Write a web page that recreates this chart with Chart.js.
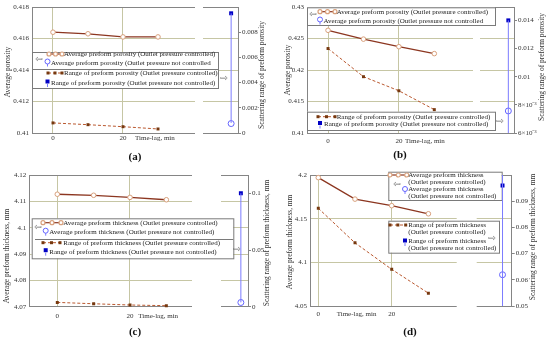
<!DOCTYPE html>
<html>
<head>
<meta charset="utf-8">
<script src="https://cdn.jsdelivr.net/npm/chart.js@4.4.0/dist/chart.umd.min.js"></script>
<style>
    body { margin: 0; background: #fff; }
    #wrap { position: relative; width: 550px; height: 341px; overflow: hidden; }
    canvas { position: absolute; }
    .cap { position: absolute; font: bold 11px "Liberation Serif", serif; color: #111; transform: translateX(-50%); }
</style>
</head>
<body>
<div id="wrap">
    <canvas id="chartA" width="275" height="170" style="left:0;top:0"></canvas>
    <canvas id="chartB" width="275" height="170" style="left:275px;top:0"></canvas>
    <canvas id="chartC" width="275" height="171" style="left:0;top:170px"></canvas>
    <canvas id="chartD" width="275" height="171" style="left:275px;top:170px"></canvas>
    <div class="cap" style="left:135px;top:150px">(a)</div>
    <div class="cap" style="left:400px;top:148px">(b)</div>
    <div class="cap" style="left:135px;top:325px">(c)</div>
    <div class="cap" style="left:410px;top:325px">(d)</div>
</div>
<script>
// time-lag sweep (min) for the controlled runs
const timeLag = [0, 10, 20, 30];
const xTicks = [0, 20];

// (a) porosity
const avgPorosityCtrlA = [0.4164, 0.4163, 0.4161, 0.4161];
const rangePorosityCtrlA = [0.0008, 0.00066, 0.0005, 0.00032];
const avgPorosityFreeA = 0.4106;
const rangePorosityFreeA = 0.0095;
const freeLineA = [0.0008, 0.0095];
const leftTicksA = [0.41, 0.412, 0.414, 0.416, 0.418];
const leftLabelsA = ['0.41', '0.412', '0.414', '0.416', '0.418'];
const rightTicksA = [0, 0.002, 0.004, 0.006, 0.008];
const rightLabelsA = ['0', '0.002', '0.004', '0.006', '0.008'];

// (b) porosity
const avgPorosityCtrlB = [0.4263, 0.4249, 0.4237, 0.4226];
const rangePorosityCtrlB = [0.0120, 0.0100, 0.0090, 0.00766];
const avgPorosityFreeB = 0.4135;
const rangePorosityFreeB = 0.0140;
const freeLineB = [0.006, 0.014];
const leftTicksB = [0.41, 0.415, 0.42, 0.425, 0.43];
const leftLabelsB = ['0.41', '0.415', '0.42', '0.425', '0.43'];
const rightTicksB = [0.006, 0.008, 0.01, 0.012, 0.014];
const rightLabelsB = ['6\u00d710\u207b\u00b3', '8\u00d710\u207b\u00b3', '0.01', '0.012', '0.014'];

// (c) thickness, mm
const avgThickCtrlC = [4.1127, 4.1123, 4.1115, 4.1106];
const rangeThickCtrlC = [0.0038, 0.0026, 0.0015, 0.0009];
const avgThickFreeC = 4.0716;
const rangeThickFreeC = 0.1003;
const freeLineC = [0.0038, 0.1003];
const leftTicksC = [4.07, 4.08, 4.09, 4.1, 4.11, 4.12];
const leftLabelsC = ['4.07', '4.08', '4.09', '4.1', '4.11', '4.12'];
const rightTicksC = [0, 0.05, 0.1];
const rightLabelsC = ['0', '0.05', '0.1'];

// (d) thickness, mm
const avgThickCtrlD = [4.197, 4.1724, 4.1649, 4.1556];
const rangeThickCtrlD = [0.0873, 0.0741, 0.0640, 0.0549];
const avgThickFreeD = 4.0858;
const rangeThickFreeD = 0.0960;
const freeLineD = [0.05, 0.1];
const leftTicksD = [4.05, 4.1, 4.15, 4.2];
const leftLabelsD = ['4.05', '4.1', '4.15', '4.2'];
const rightTicksD = [0.05, 0.06, 0.07, 0.08, 0.09];
const rightLabelsD = ['0.05', '0.06', '0.07', '0.08', '0.09'];

const SERIF = '"Liberation Serif", "Times New Roman", serif';
const colors = {
    avgLine: '#8c3620',
    avgPoint: '#d8a07c',
    rangeLine: '#b9582f',
    rangePoint: '#76380f',
    freeLine: '#7b7bff',
    freeCircle: '#6464ff',
    freeSquare: '#0000c4',
    grid: '#c6c6a4',
    frame: '#858585',
    text: '#333'
};

const panels = [
    {
        id: 'chartA', w: 275, h: 170,
        area: { l: 32, r: 238, t: 7, b: 133 },
        xMin: -6, xMax: 52.86, freeX: 50.9, gap: [195, 203], gapBorders: true,
        yMin: 0.41, yMax: 0.418, y2Min: 0, y2Max: 0.01,
        avgCtrl: avgPorosityCtrlA, rangeCtrl: rangePorosityCtrlA,
        avgFree: avgPorosityFreeA, rangeFree: rangePorosityFreeA, freeLine: freeLineA,
        leftTicks: leftTicksA, leftLabels: leftLabelsA, rightTicks: rightTicksA, rightLabels: rightLabelsA,
        xPad: 1, timeLabel: [135, 138],
        leftTitle: ['Average porosity', 8, 72], rightTitle: ['Scattering range of preform porosity', 262, 75],
        boxes: [[32, 52, 186, 36]], separators: [[32, 218, 69]],
        arrows: [['\u21e6', 39, 60], ['\u21e8', 224, 79]],
        entries: [
            { sym: 'avgCtrl', sx: 49, sy: 54, len: 13, tx: 64, ty: 54, text: ['Average preform porosity (Outlet pressure controlled)'] },
            { sym: 'avgFree', sx: 47.5, sy: 61.5, tx: 51, ty: 62.7, text: ['Average preform porosity (Outlet pressure not controlled'] },
            { sym: 'rangeCtrl', sx: 48, sy: 73, len: 14, tx: 64, ty: 73.3, text: ['Range of preform porosity (Outlet pressure controlled)'] },
            { sym: 'rangeFree', sx: 47.5, sy: 82, tx: 51, ty: 83.3, text: ['Range of preform porosity (Outlet pressure not controlled)'] }
        ]
    },
    {
        id: 'chartB', w: 275, h: 170,
        area: { l: 32, r: 239, t: 7, b: 133 },
        xMin: -5.94, xMax: 52.5, freeX: 50.9, gap: [198, 205], gapBorders: false,
        yMin: 0.41, yMax: 0.43, y2Min: 0.006, y2Max: 0.01495,
        avgCtrl: avgPorosityCtrlB, rangeCtrl: rangePorosityCtrlB,
        avgFree: avgPorosityFreeB, rangeFree: rangePorosityFreeB, freeLine: freeLineB,
        leftTicks: leftTicksB, leftLabels: leftLabelsB, rightTicks: rightTicksB, rightLabels: rightLabelsB,
        xPad: 4, timeLabel: [130, 140.7],
        leftTitle: ['Average porosity', 13.5, 70], rightTitle: ['Scattering range of preform porosity', 267, 67],
        boxes: [[32, 7.3, 188, 17.7], [32, 111.7, 188, 18.3]], separators: [],
        arrows: [['\u21e6', 38, 15], ['\u21e8', 225, 121.7]],
        entries: [
            { sym: 'avgCtrl', sx: 45, sy: 11.7, len: 15, tx: 61.7, ty: 11.7, text: ['Average preform porosity (Outlet pressure controlled)'] },
            { sym: 'avgFree', sx: 45, sy: 19.5, tx: 48.5, ty: 20.7, text: ['Average preform porosity (Outlet pressure not controlled'] },
            { sym: 'rangeCtrl', sx: 43, sy: 116.7, len: 17, tx: 61.7, ty: 116.7, text: ['Range of preform porosity (Outlet pressure controlled)'] },
            { sym: 'rangeFree', sx: 45, sy: 123.5, tx: 49, ty: 124.5, text: ['Range of preform porosity (Outlet pressure not controlled)'] }
        ]
    },
    {
        id: 'chartC', w: 275, h: 171,
        area: { l: 29.3, r: 248, t: 4, b: 136.7 },
        xMin: -7.7, xMax: 52.46, freeX: 50.5, gap: [192, 221], gapBorders: true,
        yMin: 4.07, yMax: 4.12, y2Min: 0, y2Max: 0.1164,
        avgCtrl: avgThickCtrlC, rangeCtrl: rangeThickCtrlC,
        avgFree: avgThickFreeC, rangeFree: rangeThickFreeC, freeLine: freeLineC,
        leftTicks: leftTicksC, leftLabels: leftLabelsC, rightTicks: rightTicksC, rightLabels: rightLabelsC,
        xPad: 5, timeLabel: [138.3, 145.7],
        leftTitle: ['Average preform thickness, mm', 7.5, 86], rightTitle: ['Scattering range of preform thickness, mm', 267, 73],
        boxes: [[31.7, 48.3, 201.6, 40]], separators: [[35, 233.3, 69]],
        arrows: [['\u21e6', 38, 57.3], ['\u21e8', 237, 79.3]],
        entries: [
            { sym: 'avgCtrl', sx: 43, sy: 52.7, len: 18, tx: 63.3, ty: 52.7, text: ['Average preform thickness (Outlet pressure controlled)'] },
            { sym: 'avgFree', sx: 45.7, sy: 60.7, tx: 49.3, ty: 62, text: ['Average preform thickness (Outlet pressure not controlled)'] },
            { sym: 'rangeCtrl', sx: 43, sy: 72.7, len: 17, tx: 63.3, ty: 72.7, text: ['Range of preform thickness (Outlet pressure controlled)'] },
            { sym: 'rangeFree', sx: 45.7, sy: 80.7, tx: 49.3, ty: 82, text: ['Range of preform thickness (Outlet pressure not controlled)'] }
        ]
    },
    {
        id: 'chartD', w: 275, h: 171,
        area: { l: 35, r: 236.7, t: 2, b: 136 },
        xMin: -2.26, xMax: 52.7, freeX: 50.2, gap: [181.7, 201.7], gapBorders: true,
        yMin: 4.05, yMax: 4.2, y2Min: 0.05, y2Max: 0.1,
        avgCtrl: avgThickCtrlD, rangeCtrl: rangeThickCtrlD,
        avgFree: avgThickFreeD, rangeFree: rangeThickFreeD, freeLine: freeLineD,
        leftTicks: leftTicksD, leftLabels: leftLabelsD, rightTicks: rightTicksD, rightLabels: rightLabelsD,
        xPad: 4, timeLabel: [61.7, 144.3],
        leftTitle: ['Average preform thickness, mm', 15, 72], rightTitle: ['Scattering range of preform thickness, mm', 258, 67],
        boxes: [[113.3, 1.7, 113.4, 28.3], [113.3, 50.7, 110.7, 32]], separators: [],
        arrows: [['\u21e6', 122, 15], ['\u21e8', 217, 68.3]],
        entries: [
            { sym: 'avgCtrl', sx: 115, sy: 5, len: 16.7, tx: 133.3, ty: 5, text: ['Average preform thickness', '(Outlet pressure controlled)'] },
            { sym: 'avgFree', sx: 130, sy: 19, tx: 133.3, ty: 19.3, text: ['Average preform thickness', '(Outlet pressure not controlled)'] },
            { sym: 'rangeCtrl', sx: 115, sy: 55, len: 15.7, tx: 133.3, ty: 55, text: ['Range of preform thickness', '(Outlet pressure controlled)'] },
            { sym: 'rangeFree', sx: 130, sy: 71, tx: 133.3, ty: 71, text: ['Range of preform thickness', '(Outlet pressure not controlled)'] }
        ]
    }
];

function drawSymbol(ctx, e) {
    ctx.save();
    if (e.sym === 'avgCtrl' || e.sym === 'rangeCtrl') {
        const isAvg = e.sym === 'avgCtrl';
        ctx.strokeStyle = isAvg ? colors.avgLine : colors.rangeLine;
        ctx.lineWidth = isAvg ? 1.2 : 1;
        ctx.setLineDash(isAvg ? [] : [3, 2]);
        ctx.beginPath();
        ctx.moveTo(e.sx, e.sy);
        ctx.lineTo(e.sx + e.len, e.sy);
        ctx.stroke();
        ctx.setLineDash([]);
        [0, 0.5, 1].forEach(f => {
            const px = e.sx + e.len * f;
            if (isAvg) {
                ctx.fillStyle = '#fff';
                ctx.strokeStyle = colors.avgPoint;
                ctx.beginPath();
                ctx.arc(px, e.sy, 2, 0, Math.PI * 2);
                ctx.fill();
                ctx.stroke();
            } else {
                ctx.fillStyle = colors.rangePoint;
                ctx.fillRect(px - 1.5, e.sy - 1.5, 3, 3);
            }
        });
    } else {
        ctx.strokeStyle = colors.freeLine;
        ctx.lineWidth = 1;
        ctx.beginPath();
        ctx.moveTo(e.sx, e.sy + 2);
        ctx.lineTo(e.sx, e.sy + 5);
        ctx.stroke();
        if (e.sym === 'avgFree') {
            ctx.strokeStyle = colors.freeCircle;
            ctx.fillStyle = '#fff';
            ctx.beginPath();
            ctx.arc(e.sx, e.sy, 2.5, 0, Math.PI * 2);
            ctx.fill();
            ctx.stroke();
        } else {
            ctx.fillStyle = colors.freeSquare;
            ctx.fillRect(e.sx - 2, e.sy - 2.5, 4, 4);
        }
    }
    ctx.restore();
}

// drawn after the scales but before the series, so markers sit on top of the legend boxes
const decorPlugin = {
    id: 'decor',
    beforeDatasetsDraw(chart) {
        const p = chart.config.options.panel;
        const ctx = chart.ctx;
        const a = chart.chartArea;
        ctx.save();
        // top frame line
        ctx.strokeStyle = colors.frame;
        ctx.lineWidth = 1;
        ctx.beginPath();
        ctx.moveTo(a.left, a.top + 0.5);
        ctx.lineTo(a.right, a.top + 0.5);
        ctx.stroke();
        // break between main plot and the "not controlled" strip
        ctx.fillStyle = '#fff';
        if (p.gapBorders) {
            ctx.fillRect(p.gap[0], a.top - 1, p.gap[1] - p.gap[0], a.bottom - a.top + 2);
        } else {
            ctx.fillRect(p.gap[0], a.top + 1.5, p.gap[1] - p.gap[0], a.bottom - a.top - 3);
        }

        // axis titles
        ctx.fillStyle = colors.text;
        ctx.font = '7.4px ' + SERIF;
        ctx.textAlign = 'center';
        ctx.textBaseline = 'middle';
        [p.leftTitle, p.rightTitle].forEach(t => {
            ctx.save();
            ctx.translate(t[1], t[2]);
            ctx.rotate(-Math.PI / 2);
            ctx.fillText(t[0], 0, 0);
            ctx.restore();
        });
        ctx.font = '7px ' + SERIF;
        ctx.textAlign = 'left';
        ctx.fillText('Time-lag, min', p.timeLabel[0], p.timeLabel[1]);

        // legend boxes
        ctx.strokeStyle = '#7a7a7a';
        p.boxes.forEach(b => {
            ctx.fillStyle = '#fff';
            ctx.fillRect(b[0], b[1], b[2], b[3]);
            ctx.strokeRect(b[0] + 0.5, b[1] + 0.5, b[2], b[3]);
        });
        p.separators.forEach(s => {
            ctx.beginPath();
            ctx.moveTo(s[0], s[2] + 0.5);
            ctx.lineTo(s[1], s[2] + 0.5);
            ctx.stroke();
        });
        p.entries.forEach(e => {
            drawSymbol(ctx, e);
            ctx.fillStyle = '#222';
            ctx.font = '7px ' + SERIF;
            ctx.textAlign = 'left';
            ctx.textBaseline = 'middle';
            e.text.forEach((line, i) => ctx.fillText(line, e.tx, e.ty + i * 7));
        });
        ctx.font = '9px "DejaVu Sans"';
        ctx.fillStyle = '#666';
        ctx.textAlign = 'center';
        p.arrows.forEach(ar => ctx.fillText(ar[0], ar[1], ar[2]));
        ctx.restore();
    }
};

function makeChart(p) {
    const tickFont = { family: SERIF, size: 7 };
    const pts = (xs, ys) => xs.map((x, i) => ({ x: x, y: ys[i] }));
    return new Chart(document.getElementById(p.id), {
        type: 'line',
        data: {
            datasets: [
                {
                    data: pts(timeLag, p.avgCtrl), yAxisID: 'y',
                    borderColor: colors.avgLine, borderWidth: 1.3,
                    pointStyle: 'circle', pointRadius: 2.3, pointBorderWidth: 1,
                    pointBorderColor: colors.avgPoint, pointBackgroundColor: '#fff', clip: 6
                },
                {
                    data: pts(timeLag, p.rangeCtrl), yAxisID: 'y2',
                    borderColor: colors.rangeLine, borderWidth: 1, borderDash: [3, 2],
                    pointStyle: 'rect', pointRadius: 2.1, pointBorderWidth: 0,
                    pointBackgroundColor: colors.rangePoint, clip: 6
                },
                {
                    data: p.freeLine.map(v => ({ x: p.freeX, y: v })), yAxisID: 'y2',
                    borderColor: colors.freeLine, borderWidth: 1, pointRadius: 0, clip: 6
                },
                {
                    data: [{ x: p.freeX, y: p.avgFree }], yAxisID: 'y', showLine: false,
                    pointStyle: 'circle', pointRadius: 3, pointBorderWidth: 1,
                    pointBorderColor: colors.freeCircle, pointBackgroundColor: '#fff', clip: 6
                },
                {
                    data: [{ x: p.freeX, y: p.rangeFree }], yAxisID: 'y2', showLine: false,
                    pointStyle: 'rect', pointRadius: 2.8, pointBorderWidth: 0,
                    pointBackgroundColor: colors.freeSquare, clip: 6
                }
            ]
        },
        options: {
            panel: p,
            responsive: false,
            animation: false,
            events: [],
            layout: { padding: { top: p.area.t, left: 0, right: 0, bottom: 0 } },
            plugins: { legend: { display: false }, tooltip: { enabled: false } },
            scales: {
                x: {
                    type: 'linear', min: p.xMin, max: p.xMax,
                    afterBuildTicks: s => { s.ticks = xTicks.map(v => ({ value: v })); },
                    afterFit: s => { s.height = p.h - p.area.b; s.paddingLeft = 0; s.paddingRight = 0; },
                    grid: { color: colors.grid, drawTicks: false },
                    border: { color: colors.frame },
                    ticks: { font: tickFont, color: colors.text, padding: p.xPad, maxRotation: 0, callback: v => String(v) }
                },
                y: {
                    position: 'left', min: p.yMin, max: p.yMax,
                    afterBuildTicks: s => { s.ticks = p.leftTicks.map(v => ({ value: v })); },
                    afterFit: s => { s.width = p.area.l; s.paddingTop = 0; s.paddingBottom = 0; },
                    grid: { color: colors.grid, drawTicks: false },
                    border: { color: colors.frame },
                    ticks: { font: tickFont, color: colors.text, padding: 3, callback: (v, i) => p.leftLabels[i] }
                },
                y2: {
                    position: 'right', min: p.y2Min, max: p.y2Max,
                    afterBuildTicks: s => { s.ticks = p.rightTicks.map(v => ({ value: v })); },
                    afterFit: s => { s.width = p.w - p.area.r; s.paddingTop = 0; s.paddingBottom = 0; },
                    grid: { drawOnChartArea: false, drawTicks: true, tickLength: 3, color: colors.frame },
                    border: { color: colors.frame },
                    ticks: { font: tickFont, color: colors.text, padding: 1, callback: (v, i) => p.rightLabels[i] }
                }
            }
        },
        plugins: [decorPlugin]
    });
}

panels.forEach(makeChart);
</script>
</body>
</html>
